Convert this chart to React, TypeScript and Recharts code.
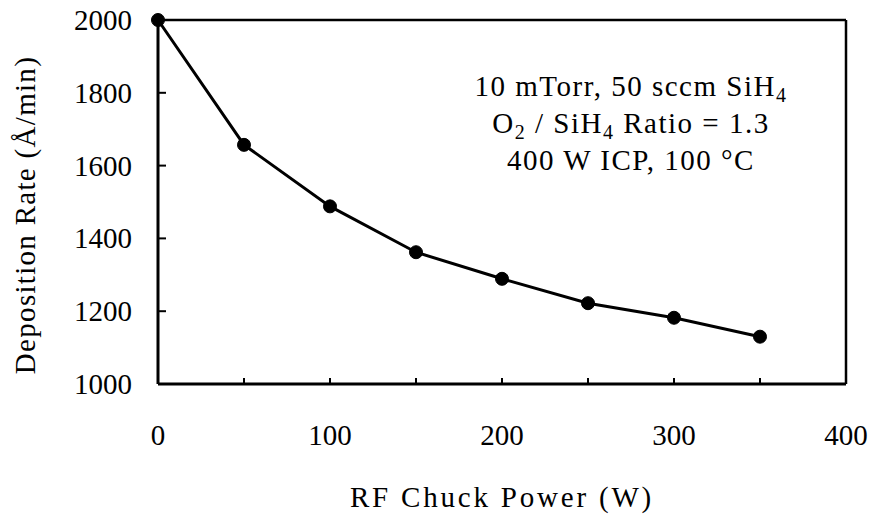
import {
  Label,
  Line,
  LineChart,
  ReferenceLine,
  XAxis,
  YAxis,
} from "recharts";

const POWER = [0, 50, 100, 150, 200, 250, 300, 350];
const RATE = [2000, 1657, 1488, 1362, 1289, 1222, 1182, 1130];
const X_TICKS = [0, 50, 100, 150, 200, 250, 300, 350, 400];
const X_LABELED = [0, 100, 200, 300, 400];
const Y_TICKS = [1000, 1200, 1400, 1600, 1800, 2000];

const FONT = "'Liberation Serif', 'Times New Roman', serif";
const W = 871;
const H = 517;

const data = POWER.map((p, i) => ({ power: p, rate: RATE[i] }));

function XTick({ x, y, payload }: any) {
  const v = payload.value as number;
  return (
    <g>
      <line x1={x} y1={y} x2={x} y2={y - 6} stroke="#000" strokeWidth={2} />
      {X_LABELED.includes(v) && (
        <text x={x} y={y + 61} textAnchor="middle" fontSize={29} fontFamily={FONT} fill="#000">
          {v}
        </text>
      )}
    </g>
  );
}

function YTick({ x, y, payload }: any) {
  return (
    <g>
      <line x1={x} y1={y} x2={x + 8} y2={y} stroke="#000" strokeWidth={2} />
      <text x={x - 26} y={y + 10} textAnchor="end" fontSize={29} fontFamily={FONT} fill="#000">
        {payload.value}
      </text>
    </g>
  );
}

function YTitle({ viewBox }: any) {
  const cx = 35;
  const cy = viewBox.y + viewBox.height / 2 + 13;
  return (
    <text
      x={cx}
      y={cy}
      transform={`rotate(-90, ${cx}, ${cy})`}
      textAnchor="middle"
      fontSize={29}
      fontFamily={FONT}
      fill="#000"
      letterSpacing={1.3}
    >
      Deposition Rate (Å/min)
    </text>
  );
}

function Note() {
  const style = { fontSize: 29, fontFamily: FONT, fill: "#000", letterSpacing: 1.5 } as const;
  return (
    <svg width={W} height={H} style={{ position: "absolute", left: 0, top: 0, pointerEvents: "none" }}>
      <text x={631} y={96} textAnchor="middle" style={style}>
        10 mTorr, 50 sccm SiH<tspan fontSize={20} dy={6}>4</tspan>
      </text>
      <text x={631} y={133} textAnchor="middle" style={style}>
        O<tspan fontSize={20} dy={6}>2</tspan>
        <tspan dy={-6}> / SiH</tspan>
        <tspan fontSize={20} dy={6}>4</tspan>
        <tspan dy={-6}> Ratio = 1.3</tspan>
      </text>
      <text x={631} y={170} textAnchor="middle" style={style}>
        400 W ICP, 100 °C
      </text>
    </svg>
  );
}

export default function App() {
  return (
    <div style={{ position: "absolute", left: 0, top: 0, width: W, height: H, background: "#fff" }}>
      <LineChart width={W} height={H} data={data} margin={{ top: 20, right: 25, bottom: 0, left: 0 }}>
        <XAxis
          dataKey="power"
          type="number"
          domain={[0, 400]}
          ticks={X_TICKS}
          interval={0}
          height={133}
          tickSize={0}
          tickMargin={0}
          tickLine={false}
          axisLine={{ stroke: "#000", strokeWidth: 3 }}
          tick={<XTick />}
        >
          <Label
            value="RF Chuck Power (W)"
            position="insideBottom"
            offset={10}
            style={{ fontSize: 29, fontFamily: FONT, fill: "#000", letterSpacing: 2.8 }}
          />
        </XAxis>
        <YAxis
          type="number"
          domain={[1000, 2000]}
          ticks={Y_TICKS}
          interval={0}
          width={158}
          tickSize={0}
          tickMargin={0}
          tickLine={false}
          axisLine={{ stroke: "#000", strokeWidth: 3 }}
          tick={<YTick />}
        >
          <Label content={<YTitle />} />
        </YAxis>
        <ReferenceLine y={2000} stroke="#000" strokeWidth={2.5} />
        <ReferenceLine x={400} stroke="#000" strokeWidth={2.5} />
        <Line
          dataKey="rate"
          stroke="#000"
          strokeWidth={3}
          dot={{ r: 6.5, fill: "#000", stroke: "#000", strokeWidth: 1 }}
          isAnimationActive={false}
        />
      </LineChart>
      <Note />
    </div>
  );
}
